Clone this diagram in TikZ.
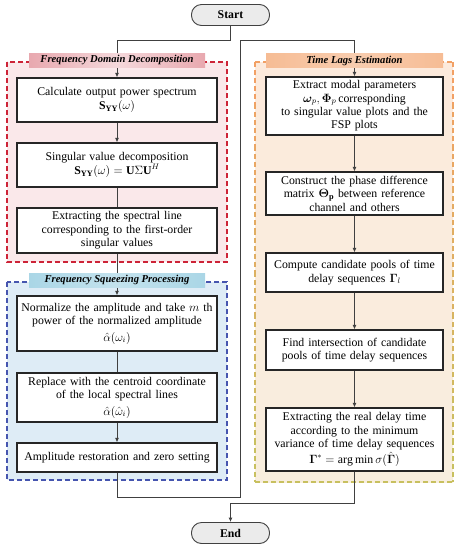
\documentclass[tikz,border=0pt]{standalone}
\usepackage{fontspec}
\setmainfont{Liberation Serif}
\usepackage{amsmath, amssymb, bm}
\usepackage{tikz}
\usetikzlibrary{arrows.meta, calc}
\usepackage{xcolor}
\definecolor{fddline}{RGB}{205,35,55}
\definecolor{fddfill}{RGB}{250,232,234}
\definecolor{fddbar}{RGB}{232,168,175}
\definecolor{fspline}{RGB}{70,85,175}
\definecolor{fspfill}{RGB}{222,236,246}
\definecolor{fspbar}{RGB}{170,214,230}
\definecolor{tleline}{RGB}{242,160,100}
\definecolor{tlebot}{RGB}{200,192,95}
\definecolor{tlefill}{RGB}{252,234,220}
\definecolor{tlefillbot}{RGB}{248,238,222}
\definecolor{tlebar}{RGB}{246,188,148}

\begin{document}
\begin{tikzpicture}[x=1pt,y=-1pt,
  every node/.style={font=\fontsize{11.8}{13.4}\selectfont},
  lbox/.style={draw=black!85,line width=1.1pt,fill=white,align=center,inner xsep=1pt,inner ysep=2pt,text width=198pt,minimum height=#1},
  rbox/.style={draw=black!85,line width=1.1pt,fill=white,align=center,inner xsep=1pt,inner ysep=2pt,text width=175pt,minimum height=#1},
  terminal/.style={draw=black!75,line width=0.9pt,fill=black!8,rounded corners=10pt,minimum width=78pt,minimum height=21pt,inner sep=0pt},
  banner/.style={inner sep=0pt,minimum height=14pt,font=\fontsize{10.6}{12}\selectfont\bfseries\itshape},
  frame/.style={line width=1.4pt,dash pattern=on 5pt off 3pt},
  link/.style={draw=black!75,line width=0.9pt},
  arr/.style={link,-{Latex[length=4.5pt,width=4pt]}}]
  \useasboundingbox (0,0) rectangle (459,550);

  % dashed group frames
  \fill[fddfill] (7,62) rectangle (227,262);
  \draw[frame,fddline] (7,62) rectangle (227,262);
  \fill[fspfill] (7,282) rectangle (227,480);
  \draw[frame,fspline] (7,282) rectangle (227,480);
  \shade[top color=tlefill,bottom color=tlefillbot] (255,62) rectangle (453,482);
  \draw[frame,tleline] (255,62) -- (453,62);
  \draw[frame,tlebot] (255,482) -- (453,482);
  \foreach \i in {0,...,9} {
    \pgfmathtruncatemacro\mix{100-\i*11}
    \draw[frame,draw=tleline!\mix!tlebot] (255,62+42*\i) -- ++(0,42);
    \draw[frame,draw=tleline!\mix!tlebot] (453,62+42*\i) -- ++(0,42);
  }

  % nodes
  \node[terminal] (start) at (230.5,15) {\textbf{Start}};
  \node[terminal] (end) at (230.5,533) {\textbf{End}};

  \node[lbox=44pt] (psd) at (117,100) {Calculate output power spectrum\\ \mbox{$\mathbf{S}_{\mathbf{YY}}(\omega)$}};
  \node[lbox=44pt] (svd) at (117,165) {Singular value decomposition\\ \mbox{$\mathbf{S}_{\mathbf{YY}}(\omega)=\mathbf{U}\Sigma\mathbf{U}^{H}$}};
  \node[lbox=45pt] (spec) at (117,230.5) {Extracting the spectral line\\ corresponding to the first-order\\ singular values};
  \node[lbox=55pt] (norm) at (117,323.5) {Normalize the amplitude and take $m$ th\\ power of the normalized amplitude\\[3pt] \mbox{$\hat{\alpha}(\omega_i)$}};
  \node[lbox=49pt] (cent) at (117,397.5) {Replace with the centroid coordinate\\ of the local spectral lines\\[3pt] \mbox{$\hat{\alpha}(\hat{\omega}_i)$}};
  \node[lbox=29pt] (amp) at (117,457.5) {Amplitude restoration and zero setting};

  \node[rbox=58pt] (modal) at (354.5,106) {Extract modal parameters\\ \mbox{$\bm{\omega}_p,\bm{\Phi}_p$}\,corresponding\\ to singular value plots and the\\ FSP plots};
  \node[rbox=43pt] (phase) at (354.5,193.5) {Construct the phase difference\\ matrix \mbox{$\bm{\Theta}_{\mathbf{p}}$} between reference\\ channel and others};
  \node[rbox=39pt] (pool) at (354.5,272.5) {Compute candidate pools of time\\ delay sequences \mbox{$\bm{\Gamma}_l$}};
  \node[rbox=40pt] (inter) at (354.5,350) {Find intersection of candidate\\ pools of time delay sequences};
  \node[rbox=63pt] (delay) at (354.5,439.5) {Extracting the real delay time\\ according to the minimum\\ variance of time delay sequences\\[1pt] \mbox{$\bm{\Gamma}^{*}=\arg\min\sigma(\hat{\bm{\Gamma}})$}};

  \coordinate (jbot) at (240.5,497);
  \coordinate (jtop) at (240.5,40);

  % connectors
  \draw[arr] (start.south) -- ++(0,14) -| (psd.north);
  \draw[arr] (psd) -- (svd);
  \draw[link] (svd) -- (spec);
  \draw[arr] (spec) -- (norm);
  \draw[link] (norm) -- (cent);
  \draw[arr] (cent) -- (amp);
  \draw[arr] (amp.south) |- (jbot) -- (jtop) -| (modal.north);
  \draw[arr] (modal) -- (phase);
  \draw[arr] (phase) -- (pool);
  \draw[arr] (pool) -- (inter);
  \draw[arr] (inter) -- (delay);
  \draw[arr] (delay.south) -- ++(0,32) -| (end.north);

  % group titles
  \node[banner,left color=fddbar,right color=fddbar,middle color=fddbar!45,minimum width=176pt] (fddtitle) at (117,60) {Frequency Domain Decomposition};
  \node[banner,left color=fspbar,right color=fspbar,middle color=fspbar!70,minimum width=176pt] (fsptitle) at (117,280) {Frequency Squeezing Processing};
  \node[banner,left color=tlebar,right color=tlebar,middle color=tlebar!75,minimum width=177pt] (tletitle) at (354.5,60.5) {Time Lags Estimation};
\end{tikzpicture}
\end{document}
